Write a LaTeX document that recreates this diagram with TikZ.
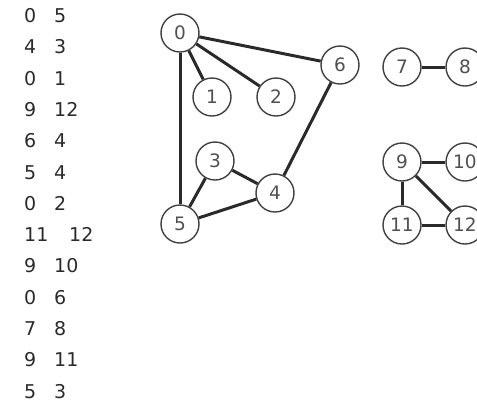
\documentclass[tikz,border=0pt]{standalone}
\usepackage{fontspec}
\setmainfont{DejaVu Sans}
\definecolor{ink}{HTML}{2A2A2A}
\definecolor{ring}{HTML}{404040}
\definecolor{lbl}{HTML}{505050}
\begin{document}
\begin{tikzpicture}[x=1pt,y=-1pt,
  vtx/.style={circle,draw=ring,line width=1.4pt,fill=white,minimum size=38pt,inner sep=0pt,font=\fontsize{18.5}{18.5}\selectfont,text=lbl},
  edge/.style={draw=ink,line width=3pt},
  pair/.style={anchor=base west,inner sep=0pt,font=\fontsize{19}{19}\selectfont,text=ink}]
\useasboundingbox (0,0) rectangle (477,408);
\clip (0,0) rectangle (477,408);
% edge list
\foreach \a/\b/\r in {0/5/0,4/3/1,0/1/2,9/12/3,6/4/4,5/4/5,0/2/6,9/10/8,0/6/9,7/8/10,9/11/11,5/3/12}{
  \node[pair] (la\r) at (24,{22.5+31.3*\r}) {\a};
  \node[pair] (lb\r) at (54,{22.5+31.3*\r}) {\b};
}
\node[pair] (la7) at (24,{22.5+31.3*7}) {11};
\node[pair] (lb7) at (69,{22.5+31.3*7}) {12};
% vertices
\node[vtx] (v0) at (180,33) {0};
\node[vtx] (v1) at (212,97) {1};
\node[vtx] (v2) at (276,97) {2};
\node[vtx] (v6) at (340,65) {6};
\node[vtx] (v3) at (215,161) {3};
\node[vtx] (v4) at (275,193) {4};
\node[vtx] (v5) at (180,224) {5};
\node[vtx] (v7) at (402,67) {7};
\node[vtx] (v8) at (465,67) {8};
\node[vtx] (v9) at (402,162) {9};
\node[vtx] (v10) at (465,162) {10};
\node[vtx] (v11) at (402,225) {11};
\node[vtx] (v12) at (465,225) {12};
\foreach \p/\q in {v0/v5,v4/v3,v0/v1,v9/v12,v6/v4,v5/v4,v0/v2,v11/v12,v9/v10,v0/v6,v7/v8,v9/v11,v5/v3}{
  \draw[edge] (\p) -- (\q);
}
\end{tikzpicture}
\end{document}
